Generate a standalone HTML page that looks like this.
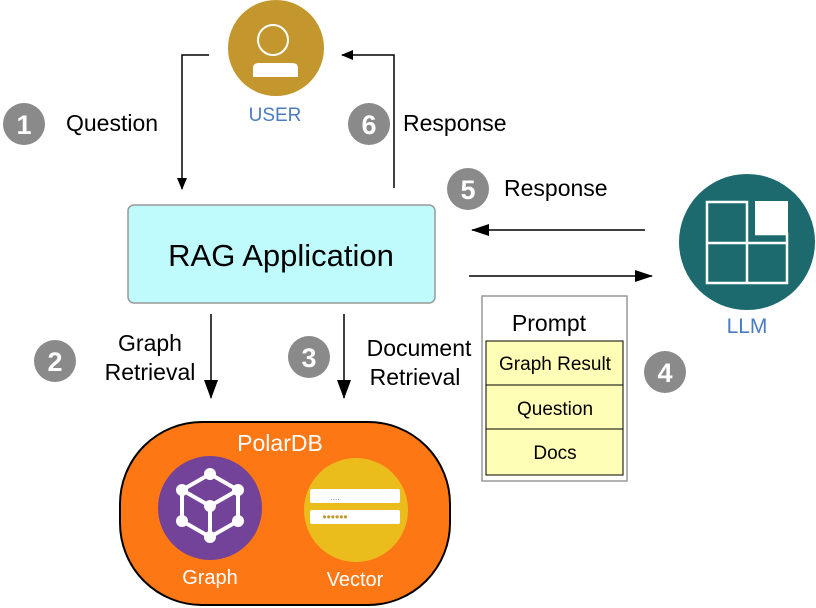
<!DOCTYPE html>
<html><head><meta charset="utf-8"><style>
body{margin:0;background:#fff}
svg{display:block;font-family:"Liberation Sans",Arial,sans-serif}
</style></head><body>
<svg width="816" height="608" viewBox="0 0 816 608" xmlns="http://www.w3.org/2000/svg">
<defs>
<marker id="a" markerWidth="19" markerHeight="14" refX="18" refY="7" orient="auto" markerUnits="userSpaceOnUse" overflow="visible"><path d="M0,0 L19,7 L0,14 z" fill="#000"/></marker>
<marker id="s" markerWidth="12" markerHeight="10" refX="11" refY="5" orient="auto" markerUnits="userSpaceOnUse" overflow="visible"><path d="M0,0 L12,5 L0,10 z" fill="#000"/></marker>
<marker id="b" markerWidth="18" markerHeight="12" refX="17" refY="6" orient="auto" markerUnits="userSpaceOnUse" overflow="visible"><path d="M0,0 L18,6 L0,12 z" fill="#000"/></marker></defs>
<!-- user -->
<circle cx="276" cy="48" r="48" fill="#C4962E"/>
<circle cx="273" cy="40" r="15" fill="none" stroke="#fff" stroke-width="2"/>
<path d="M253,77 L253,68 Q253,63 259,63 L292,63 Q298,63 298,68 L298,77 z" fill="#fff"/>
<text x="275" y="121" font-size="19" fill="#4A7CC0" text-anchor="middle">USER</text>
<!-- numbers -->
<g font-size="27" font-weight="bold" fill="#fff" text-anchor="middle">
<circle cx="24" cy="124" r="21" fill="#8a8a8a"/><text x="24" y="134">1</text>
<circle cx="369" cy="124" r="21" fill="#8a8a8a"/><text x="369" y="134">6</text>
<circle cx="468" cy="189" r="21" fill="#8a8a8a"/><text x="468" y="199">5</text>
<circle cx="55" cy="361" r="21" fill="#8a8a8a"/><text x="55" y="371">2</text>
<circle cx="309" cy="357" r="21" fill="#8a8a8a"/><text x="309" y="367">3</text>
<circle cx="665" cy="372" r="21" fill="#8a8a8a"/><text x="665" y="382">4</text>
</g>
<g font-size="23" fill="#000">
<text x="66" y="131">Question</text>
<text x="403" y="131">Response</text>
<text x="504" y="196">Response</text>
<text x="150" y="351" text-anchor="middle">Graph</text>
<text x="150" y="380" text-anchor="middle">Retrieval</text>
<text x="419" y="356" text-anchor="middle">Document</text>
<text x="415" y="385" text-anchor="middle">Retrieval</text>
</g>
<!-- arrows -->
<g stroke="#000" stroke-width="1.5" fill="none">
<polyline points="209,55 182,55 182,189" marker-end="url(#s)"/>
<polyline points="394,188 394,55 342,55" marker-end="url(#s)"/>
<line x1="645" y1="230" x2="472" y2="230" marker-end="url(#b)"/>
<line x1="469" y1="276" x2="652" y2="276" marker-end="url(#b)"/>
<line x1="211" y1="314" x2="211" y2="398" marker-end="url(#a)"/>
<line x1="344" y1="314" x2="344" y2="398" marker-end="url(#a)"/>
</g>
<!-- RAG -->
<rect x="128" y="205" width="307" height="98" rx="6" fill="#BFFBFD" stroke="#999" stroke-width="1.5"/>
<text x="281" y="266" font-size="31" text-anchor="middle">RAG Application</text>
<!-- LLM -->
<circle cx="747" cy="242" r="68" fill="#1C6A6D"/>
<g stroke="#fff" stroke-width="2.5" fill="none"><path d="M755,234 L787,234 L787,283 L707,283 L707,202 L747,202 L747,283 M707,243 L787,243"/></g>
<rect x="755" y="201" width="33" height="33" fill="#fff"/>
<text x="747" y="333" font-size="21" fill="#4A7CC0" text-anchor="middle">LLM</text>
<!-- prompt -->
<rect x="482" y="296" width="145" height="185" fill="#fff" stroke="#999" stroke-width="1.5"/>
<text x="549" y="331" font-size="23" text-anchor="middle">Prompt</text>
<g fill="#FFFEB6" stroke="#000" stroke-width="1"><rect x="486" y="341" width="137" height="44"/><rect x="486" y="385" width="137" height="44"/><rect x="486" y="429" width="137" height="46"/></g>
<g font-size="19" text-anchor="middle"><text x="555" y="370">Graph Result</text><text x="555" y="415">Question</text><text x="555" y="459">Docs</text></g>
<!-- PolarDB -->
<rect x="120" y="422" width="330" height="183" rx="82" fill="#FD7715" stroke="#000" stroke-width="2"/>
<text x="280" y="451" font-size="23" fill="#fff" text-anchor="middle">PolarDB</text>
<circle cx="210" cy="508" r="52" fill="#734299"/>
<g stroke="#fff" stroke-width="4" fill="none"><path d="M210,474 L238,490 L238,521 L210,537 L182,521 L182,490 z M182,490 L210,506 L238,490 M210,506 L210,537"/></g>
<g fill="#fff"><circle cx="210" cy="474" r="6"/><circle cx="238" cy="490" r="6"/><circle cx="238" cy="521" r="6"/><circle cx="210" cy="537" r="6"/><circle cx="182" cy="521" r="6"/><circle cx="182" cy="490" r="6"/><circle cx="210" cy="506" r="6"/></g>
<circle cx="356" cy="510" r="52" fill="#EABD1D"/>
<rect x="310" y="489" width="90" height="14" rx="2" fill="#fff"/>
<rect x="310" y="510" width="90" height="14" rx="2" fill="#fff"/>
<text x="335" y="500" font-size="8" fill="#4A7CC0" text-anchor="middle">....</text>
<text x="335" y="521" font-size="12" fill="#C4962E" text-anchor="middle">••••••</text>
<text x="210" y="584" font-size="20" fill="#fff" text-anchor="middle">Graph</text>
<text x="355" y="586" font-size="20" fill="#fff" text-anchor="middle">Vector</text>
</svg>
</body></html>
